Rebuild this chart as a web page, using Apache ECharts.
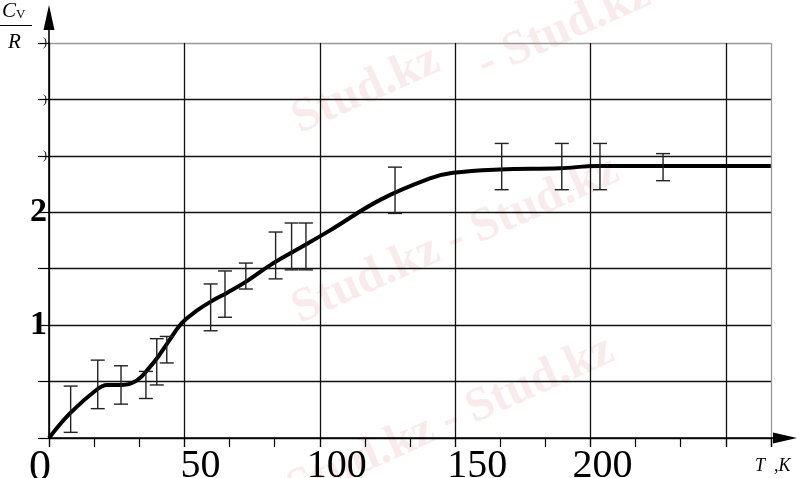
<!DOCTYPE html>
<html><head><meta charset="utf-8">
<script src="https://cdn.jsdelivr.net/npm/echarts@6/dist/echarts.min.js"></script>
<style>html,body{margin:0;padding:0;background:#fff}#c{width:800px;height:478px}</style>
</head><body><div id="c"></div>
<script>
// Curve: temperature T (K) and Cv/R
var curveT  = [0, 7.8, 17.7, 21.4, 27.0, 32.5, 37.3, 40.3, 44.0, 49.1, 54.7, 60.6, 66.0, 73.1, 81.6, 91.6, 103.8, 122.3, 140.7, 149.2, 166.6, 188.7, 202.4, 233.1, 266.6];
var curveCv = [0, 0.22, 0.43, 0.47, 0.47, 0.51, 0.63, 0.72, 0.85, 1.02, 1.13, 1.22, 1.29, 1.39, 1.53, 1.67, 1.84, 2.11, 2.30, 2.35, 2.38, 2.39, 2.41, 2.41, 2.41];
// Error bars: T, low, high
var errT    = [8.0, 18.0, 26.6, 35.8, 39.8, 43.5, 59.7, 65.0, 72.7, 83.7, 89.6, 94.9, 127.8, 167.2, 189.4, 203.5, 226.8];
var errLow  = [0.05, 0.26, 0.30, 0.35, 0.47, 0.665, 0.95, 1.07, 1.32, 1.41, 1.49, 1.49, 1.99, 2.20, 2.20, 2.20, 2.28];
var errHigh = [0.46, 0.69, 0.64, 0.59, 0.88, 0.90, 1.365, 1.48, 1.55, 1.825, 1.905, 1.905, 2.40, 2.61, 2.61, 2.61, 2.52];
// Axis labels
var xTickLabels = {0: '0', 50: '50', 100: '100', 150: '150', 200: '200'};
var yTickLabels = {1: '1', 2: '2', 2.5: ')', 3: ')', 3.5: ')'};

var chart = echarts.init(document.getElementById('c'), null, {renderer: 'canvas'});
var serif = '"Liberation Serif", "DejaVu Serif", serif';
var curveData = curveT.map(function (t, i) { return [t, curveCv[i]]; });
var errData = errT.map(function (t, i) { return [t, errLow[i], errHigh[i]]; });
var xRich = {
  z: {fontSize: 44, fontFamily: serif, color: '#000', padding: [0, 18, 0, 0]},
  a: {fontSize: 40, fontFamily: serif, color: '#000', padding: [0, 0, 0, 32]},
  b: {fontSize: 40, fontFamily: serif, color: '#000', padding: [0, 0, 0, 34]},
  c: {fontSize: 40, fontFamily: serif, color: '#000', padding: [0, 0, 0, 44]},
  d: {fontSize: 40, fontFamily: serif, color: '#000', padding: [0, 0, 0, 24]}
};
var xKey = {0: 'z', 50: 'a', 100: 'b', 150: 'c', 200: 'd'};
var wm = 'rgba(225,150,160,0.2)';
var wmFont = 'bold 48px "Liberation Serif", serif';

chart.setOption({
  animation: false,
  backgroundColor: '#fff',
  grid: {left: 49, right: 29, top: 43, bottom: 40, containLabel: false, outerBoundsMode: 'none'},
  xAxis: [{
    type: 'value', min: 0, max: 800 / 3, interval: 50, position: 'bottom', offset: 0,
    axisLine: {show: true, lineStyle: {color: '#000', width: 1.6}},
    axisTick: {show: true, length: 9, inside: false, lineStyle: {color: '#000', width: 1.2}},
    splitLine: {show: true, lineStyle: {color: ['#111', '#111', '#111', '#111', '#111', '#111', '#999'], width: 1.3}},
    axisLabel: {
      show: true, margin: 8, showMaxLabel: true, showMinLabel: true,
      formatter: function (v) {
        var k = Math.round(v);
        if (Math.abs(v - k) < 1e-6 && xTickLabels[k] !== undefined) return '{' + xKey[k] + '|' + xTickLabels[k] + '}';
        return '';
      },
      rich: xRich
    }
  }, {
    type: 'value', min: 0, max: 800 / 3, interval: 50 / 3, position: 'bottom', offset: 0,
    axisLine: {show: false},
    axisTick: {show: true, length: 9, inside: false, lineStyle: {color: '#000', width: 1.2}},
    splitLine: {show: false},
    axisLabel: {show: false}
  }],
  yAxis: {
    type: 'value', min: 0, max: 3.5, interval: 0.5,
    axisLine: {show: true, lineStyle: {color: '#000', width: 1.6}},
    axisTick: {show: true, length: 11, inside: false, lineStyle: {color: '#000', width: 1.2}},
    splitLine: {show: true, lineStyle: {color: ['#111', '#111', '#111', '#111', '#111', '#111', '#111', '#999'], width: 1.3}},
    axisLabel: {
      show: true, margin: 2,
      formatter: function (v) {
        var s = yTickLabels[v];
        if (s === undefined) return '';
        if (s === ')') return '{p|)}';
        return '{n|' + s + '}';
      },
      rich: {
        n: {fontSize: 34, fontWeight: 'bold', fontFamily: serif, color: '#000'},
        p: {fontSize: 12, fontFamily: serif, color: '#000'}
      }
    }
  },
  graphic: [
    // watermark
    {type: 'text', x: 285, y: 100, rotation: 0.42, style: {text: 'Stud.kz', font: wmFont, fill: wm}, z: 0, silent: true},
    {type: 'text', x: 470, y: 45, rotation: 0.42, style: {text: '- Stud.kz', font: wmFont, fill: wm}, z: 0, silent: true},
    {type: 'text', x: 285, y: 290, rotation: 0.42, style: {text: 'Stud.kz - Stud.kz', font: wmFont, fill: wm}, z: 0, silent: true},
    {type: 'text', x: 280, y: 470, rotation: 0.42, style: {text: 'Stud.kz - Stud.kz', font: wmFont, fill: wm}, z: 0, silent: true},
    // y axis extension and arrow
    {type: 'line', shape: {x1: 49, y1: 43, x2: 49, y2: 22}, style: {stroke: '#000', lineWidth: 1.6}, z: 100},
    {type: 'polygon', shape: {points: [[49, 5], [43.5, 30], [54.5, 30]]}, style: {fill: '#000'}, z: 100},
    // x axis extension and arrow
    {type: 'line', shape: {x1: 771, y1: 438, x2: 785, y2: 438}, style: {stroke: '#000', lineWidth: 1.6}, z: 100},
    {type: 'polygon', shape: {points: [[797, 438], [773, 432.5], [773, 443.5]]}, style: {fill: '#000'}, z: 100},
    // y axis title  Cv / R
    {type: 'text', x: 2, y: 1, style: {text: '{c|C}{v|V}', rich: {
      c: {fontSize: 21, fontStyle: 'italic', fontFamily: serif, fill: '#000'},
      v: {fontSize: 13, fontFamily: serif, fill: '#000', padding: [6, 0, 0, 0]}
    }}, z: 100},
    {type: 'line', shape: {x1: 0, y1: 25.5, x2: 32, y2: 25.5}, style: {stroke: '#000', lineWidth: 1}, z: 100},
    {type: 'text', x: 8, y: 32, style: {text: 'R', fontSize: 21, fontStyle: 'italic', fontFamily: serif, fill: '#000'}, z: 100},
    // x axis title
    {type: 'text', x: 755, y: 457, style: {text: 'T  ,K', fontSize: 18, fontStyle: 'italic', fontFamily: serif, fill: '#000'}, z: 100}
  ],
  series: [{
    type: 'line', xAxisIndex: 0, smooth: 0.4, symbol: 'none', data: curveData,
    lineStyle: {color: '#000', width: 4}, z: 5
  }, {
    type: 'custom', xAxisIndex: 0, data: errData, z: 6,
    renderItem: function (params, api) {
      var top = api.coord([api.value(0), api.value(2)]);
      var bot = api.coord([api.value(0), api.value(1)]);
      var w = 7;
      var st = {stroke: '#222', lineWidth: 1.4};
      return {type: 'group', children: [
        {type: 'line', shape: {x1: top[0], y1: top[1], x2: bot[0], y2: bot[1]}, style: st},
        {type: 'line', shape: {x1: top[0] - w, y1: top[1], x2: top[0] + w, y2: top[1]}, style: st},
        {type: 'line', shape: {x1: bot[0] - w, y1: bot[1], x2: bot[0] + w, y2: bot[1]}, style: st}
      ]};
    }
  }]
});
</script>
</body></html>
